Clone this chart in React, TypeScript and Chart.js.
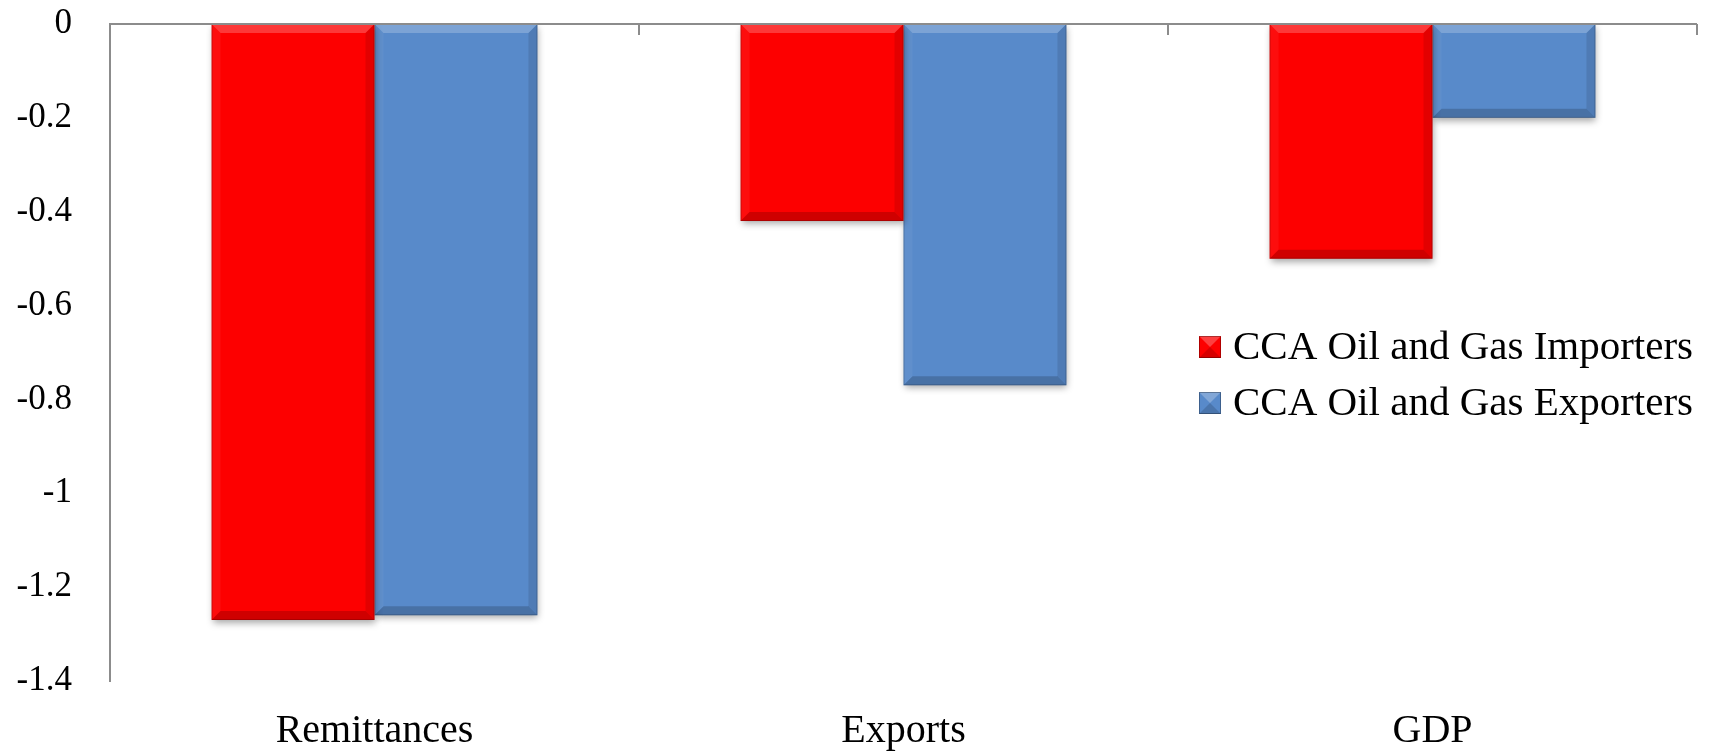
import React, { useEffect, useRef } from "react";
import { Chart, registerables } from "chart.js";

Chart.register(...registerables);

const categories = ["Remittances", "Exports", "GDP"];
const importers = [-1.27, -0.42, -0.5];
const exporters = [-1.26, -0.77, -0.2];
const seriesNames = ["CCA Oil and Gas Importers", "CCA Oil and Gas Exporters"];
const yTickValues = [0, -0.2, -0.4, -0.6, -0.8, -1, -1.2, -1.4];
const yTickLabels = ["0", "-0.2", "-0.4", "-0.6", "-0.8", "-1", "-1.2", "-1.4"];

const RED = "#FD0000";
const BLUE = "#588ACA";
const AXIS = "#8C8C8C";
const FONT = "'Liberation Serif', 'Times New Roman', serif";

const shadowPlugin = {
  id: "barShadow",
  beforeDatasetsDraw(chart: any) {
    const ctx = chart.ctx;
    ctx.save();
    ctx.shadowColor = "rgba(0,0,0,0.35)";
    ctx.shadowBlur = 7;
    ctx.shadowOffsetX = 1;
    ctx.shadowOffsetY = 3;
  },
  afterDatasetsDraw(chart: any) {
    const ctx = chart.ctx;
    ctx.restore();
    const b = 9;
    chart.data.datasets.forEach((_: any, di: number) => {
      const meta = chart.getDatasetMeta(di);
      meta.data.forEach((el: any) => {
        const L = el.x - el.width / 2;
        const R = el.x + el.width / 2;
        const T = Math.min(el.y, el.base);
        const B = Math.max(el.y, el.base);
        const poly = (pts: number[][], color: string) => {
          ctx.beginPath();
          ctx.moveTo(pts[0][0], pts[0][1]);
          for (let i = 1; i < pts.length; i++) ctx.lineTo(pts[i][0], pts[i][1]);
          ctx.closePath();
          ctx.fillStyle = color;
          ctx.fill();
        };
        ctx.save();
        poly([[L, T], [R, T], [R - b, T + b], [L + b, T + b]], "rgba(255,255,255,0.22)");
        poly([[L, T], [L + b, T + b], [L + b, B - b], [L, B]], "rgba(255,255,255,0.05)");
        poly([[R, T], [R, B], [R - b, B - b], [R - b, T + b]], "rgba(0,0,0,0.10)");
        poly([[L, B], [R, B], [R - b, B - b], [L + b, B - b]], "rgba(0,0,0,0.18)");
        ctx.strokeStyle = "rgba(0,0,0,0.18)";
        ctx.lineWidth = 1;
        ctx.strokeRect(L + 0.5, T + 0.5, R - L - 1, B - T - 1);
        ctx.restore();
      });
    });
  },
};

const axisPlugin = {
  id: "zeroAxis",
  afterDraw(chart: any) {
    const ctx = chart.ctx;
    const x = chart.scales.x;
    const y = chart.scales.y;
    const y0 = y.getPixelForValue(0);
    const area = chart.chartArea;
    ctx.save();
    ctx.strokeStyle = AXIS;
    ctx.lineWidth = 2;
    ctx.beginPath();
    ctx.moveTo(area.left, y0);
    ctx.lineTo(area.right, y0);
    const n = categories.length;
    for (let i = 0; i < n; i++) {
      const xp = i < n - 1 ? (x.getPixelForTick(i) + x.getPixelForTick(i + 1)) / 2 : area.right;
      ctx.moveTo(xp, y0);
      ctx.lineTo(xp, y0 + 11);
    }
    ctx.stroke();
    ctx.restore();
  },
};

const legendPlugin = {
  id: "customLegend",
  afterDraw(chart: any) {
    const ctx = chart.ctx;
    const colors = [RED, BLUE];
    const area = chart.chartArea;
    const left = area.right - 498;
    const tops = [336, 392];
    ctx.save();
    seriesNames.forEach((name, i) => {
      const top = tops[i];
      const s = 22;
      ctx.fillStyle = colors[i];
      ctx.fillRect(left, top, s, s);
      ctx.fillStyle = "rgba(255,255,255,0.25)";
      ctx.beginPath();
      ctx.moveTo(left, top);
      ctx.lineTo(left + s, top);
      ctx.lineTo(left + s / 2, top + s / 2);
      ctx.closePath();
      ctx.fill();
      ctx.fillStyle = "rgba(0,0,0,0.15)";
      ctx.beginPath();
      ctx.moveTo(left, top + s);
      ctx.lineTo(left + s, top + s);
      ctx.lineTo(left + s / 2, top + s / 2);
      ctx.closePath();
      ctx.fill();
      ctx.strokeStyle = "rgba(0,0,0,0.3)";
      ctx.lineWidth = 1;
      ctx.strokeRect(left + 0.5, top + 0.5, s - 1, s - 1);
      ctx.fillStyle = "#000";
      ctx.font = `41px ${FONT}`;
      ctx.textBaseline = "alphabetic";
      ctx.textAlign = "left";
      ctx.fillText(name, left + 34, top + 23);
    });
    ctx.restore();
  },
};

export default function App() {
  const ref = useRef<HTMLCanvasElement | null>(null);
  useEffect(() => {
    if (!ref.current) return;
    const chart = new Chart(ref.current, {
      type: "bar",
      data: {
        labels: categories,
        datasets: [
          { label: seriesNames[0], data: importers, backgroundColor: RED, borderWidth: 0 },
          { label: seriesNames[1], data: exporters, backgroundColor: BLUE, borderWidth: 0 },
        ],
      },
      options: {
        animation: false,
        responsive: true,
        maintainAspectRatio: false,
        layout: { padding: { top: 24, right: 22, left: 0, bottom: 0 } },
        datasets: { bar: { categoryPercentage: 0.616, barPercentage: 1 } },
        plugins: { legend: { display: false }, tooltip: { enabled: false } },
        scales: {
          x: {
            position: "bottom",
            grid: { display: false, drawTicks: false },
            border: { display: false },
            ticks: { color: "#000", font: { family: FONT, size: 40 }, padding: 26 },
            afterFit(scale: any) {
              scale.height = 71;
              scale.paddingLeft = 0;
              scale.paddingRight = 0;
            },
          },
          y: {
            min: -1.4,
            max: 0,
            grid: { display: false, drawTicks: false },
            border: { display: true, color: AXIS, width: 2 },
            afterBuildTicks(scale: any) {
              scale.ticks = yTickValues.map((v) => ({ value: v }));
            },
            ticks: {
              color: "#000",
              font: { family: FONT, size: 35 },
              padding: 38,
              callback: (v: any) => {
                const i = yTickValues.findIndex((t) => Math.abs(t - Number(v)) < 1e-9);
                return i >= 0 ? yTickLabels[i] : "";
              },
            },
            afterFit(scale: any) {
              scale.width = 110;
              scale.paddingTop = 0;
              scale.paddingBottom = 0;
            },
          },
        },
      },
      plugins: [shadowPlugin, axisPlugin, legendPlugin],
    });
    return () => chart.destroy();
  }, []);
  return (
    <div style={{ position: "absolute", left: 0, top: 0, width: 1719, height: 752 }}>
      <canvas ref={ref} />
    </div>
  );
}
